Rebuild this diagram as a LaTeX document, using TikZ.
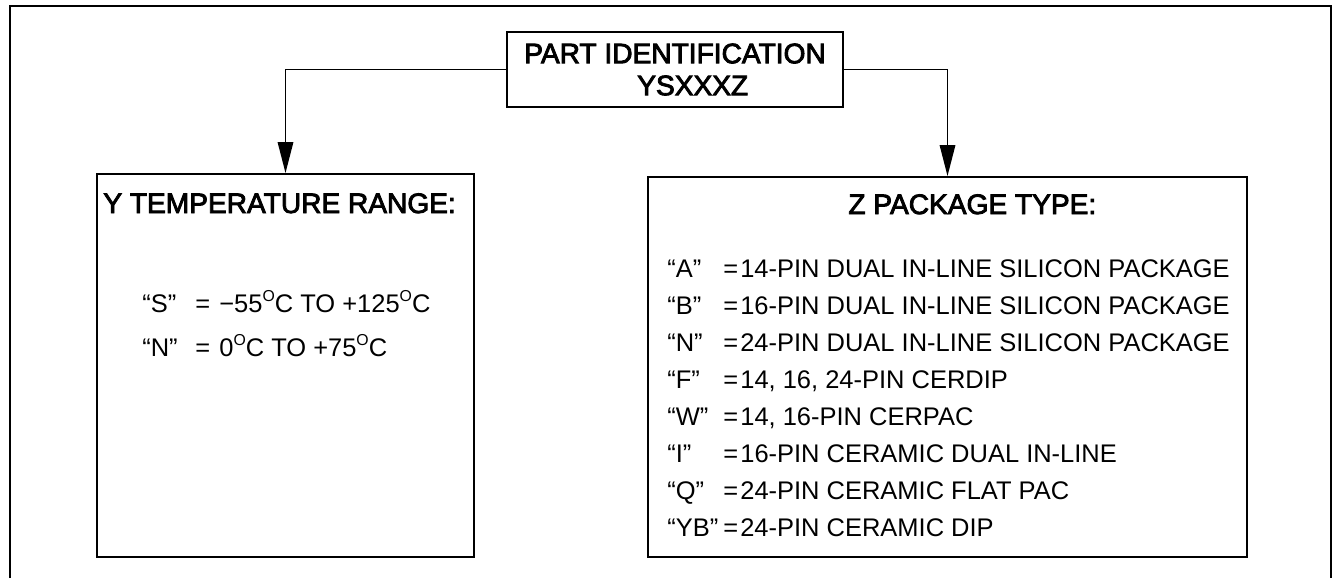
\documentclass[tikz,border=0pt]{standalone}
\usepackage{fontspec}
\setmainfont{Liberation Sans}
\newfontfamily\headfont[BoldFont={Liberation Sans}, BoldFeatures={FakeBold=3}]{Liberation Sans}
\usepackage{tikz}
\usetikzlibrary{arrows.meta, positioning}

\newcommand{\supo}{\raisebox{5.9pt}{\fontsize{9}{9}\selectfont O}}

\begin{document}
\begin{tikzpicture}[
    x=0.02cm, y=-0.02cm,
    partst/.style={draw, line width=1.1pt, minimum width=6.72cm, minimum height=1.5cm,
                   align=left, inner sep=0pt, font=\headfont\bfseries\fontsize{16}{18.2}\selectfont},
    rangest/.style={draw, line width=1.1pt, minimum width=7.54cm, minimum height=7.66cm,
                    inner sep=0pt},
    packst/.style={draw, line width=1.1pt, minimum width=11.98cm, minimum height=7.6cm,
                   inner sep=0pt},
    headst/.style={anchor=base west, inner sep=0pt,
                   font=\headfont\bfseries\fontsize{16}{18}\selectfont},
    itemst/.style={anchor=base west, inner sep=0pt, font=\fontsize{14.5}{16}\selectfont},
    arr/.style={-{Triangle[length=0.62cm, width=0.31cm]}, line width=0.9pt},
  ]
  \useasboundingbox (0,0) rectangle (1337,578);
  %% Outer frame, open at the bottom
  \draw[line width=0.9pt] (10,578) -- (10,6) -- (1331,6) -- (1331,578);
  %% Boxes
  \node[partst] (part) at (675,69.5) {PART IDENTIFICATION\\\hspace*{2.26cm}YSXXXZ};
  \node[rangest] (range) at (285.5,365.5) {};
  \node[packst] (pack) at (947.5,367) {};
  %% Left box text
  \node[headst] (rangehead) at (103,213) {Y TEMPERATURE RANGE:};
  \node[itemst] (rangeS) at (142,312)
    {\makebox[1.06cm][l]{``S''}\makebox[0.48cm][l]{=}−55\supo C TO +125\supo C};
  \node[itemst] (rangeN) at (142,356)
    {\makebox[1.06cm][l]{``N''}\makebox[0.48cm][l]{=}0\supo C TO +75\supo C};
  %% Right box text
  \node[headst] (packhead) at (848,214) {Z PACKAGE TYPE:};
  \foreach \code/\desc [count=\i from 0] in {
      A/14-PIN DUAL IN-LINE SILICON PACKAGE,
      B/16-PIN DUAL IN-LINE SILICON PACKAGE,
      N/24-PIN DUAL IN-LINE SILICON PACKAGE,
      F/{14, 16, 24-PIN CERDIP},
      W/{14, 16-PIN CERPAC},
      I/16-PIN CERAMIC DUAL IN-LINE,
      Q/24-PIN CERAMIC FLAT PAC,
      YB/24-PIN CERAMIC DIP}
    \node[itemst] (pack\code) at (667,277+37.1*\i)
      {\makebox[1.12cm][l]{``\code''}\makebox[0.34cm][l]{=}\desc};
  %% Arrows
  \draw[arr] (part.west) -| (range.north);
  \draw[arr] (part.east) -| (pack.north);
\end{tikzpicture}
\end{document}
